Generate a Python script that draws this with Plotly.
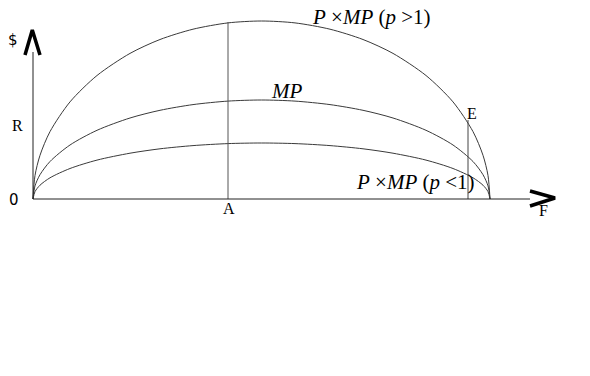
import plotly.graph_objects as go

# Quantity F (horizontal) values
f_vals = [0, 2, 7, 17, 37, 64, 97, 127, 160, 195, 228.5, 262, 297, 330, 360, 393, 420, 440, 450, 455, 457]
# P x MP (p > 1)
top_vals = [0, 23.5, 43.7, 67.4, 97.1, 123.5, 145.6, 159.5, 169.8, 176.1, 178, 176.1, 169.8, 159.5, 145.6, 123.5, 97.1, 67.4, 43.7, 23.5, 0]
# MP
mid_vals = [0, 13.1, 24.3, 37.5, 54.0, 68.7, 81.0, 88.7, 94.4, 97.9, 99, 97.9, 94.4, 88.7, 81.0, 68.7, 54.0, 37.5, 24.3, 13.1, 0]
# P x MP (p < 1)
bot_vals = [0, 7.4, 13.8, 21.2, 30.5, 38.9, 45.8, 50.2, 53.4, 55.4, 56, 55.4, 53.4, 50.2, 45.8, 38.9, 30.5, 21.2, 13.8, 7.4, 0]

# Vertical markers
a_x, a_top = 195, 177
e_x, e_top = 435, 79

# Axis extents
x_axis_end = 497
y_axis_end = 147

fig = go.Figure()

curve_style = dict(color="#3a3a3a", width=1, shape="spline", smoothing=0.8)
for ys in (top_vals, mid_vals, bot_vals):
    fig.add_trace(go.Scatter(x=f_vals, y=ys, mode="lines", line=curve_style,
                             hoverinfo="skip", showlegend=False))

# vertical lines A and E
fig.add_trace(go.Scatter(x=[a_x, a_x], y=[0, a_top], mode="lines",
                         line=dict(color="#555555", width=1), showlegend=False, hoverinfo="skip"))
fig.add_trace(go.Scatter(x=[e_x, e_x], y=[0, e_top], mode="lines",
                         line=dict(color="#444444", width=1), showlegend=False, hoverinfo="skip"))

# axes lines
fig.add_trace(go.Scatter(x=[0, 0], y=[0, y_axis_end], mode="lines",
                         line=dict(color="#222222", width=1), showlegend=False, hoverinfo="skip"))
fig.add_trace(go.Scatter(x=[0, x_axis_end], y=[0, 0], mode="lines",
                         line=dict(color="#222222", width=1), showlegend=False, hoverinfo="skip"))

# arrow heads (chevrons)
fig.add_trace(go.Scatter(x=[-8, -0.7, 7], y=[144, 169, 144], mode="lines",
                         line=dict(color="black", width=3.5), showlegend=False, hoverinfo="skip"))
fig.add_trace(go.Scatter(x=[497, 522, 497], y=[8, 1, -7], mode="lines",
                         line=dict(color="black", width=3.5), showlegend=False, hoverinfo="skip"))

serif = "Liberation Serif"
small = dict(family=serif, size=16, color="black")
big = dict(family=serif, size=21, color="black")
sans = dict(family="DejaVu Sans", size=15, color="black")

ann = [
    dict(x=-20, y=159, text="$", font=sans),
    dict(x=-16, y=74, text="R", font=small),
    dict(x=-19, y=-1, text="0", font=sans),
    dict(x=a_x + 1, y=-9, text="A", font=small),
    dict(x=e_x + 4, y=86, text="E", font=small),
    dict(x=510, y=-11, text="F", font=small),
    dict(x=338, y=182, text="<i>P</i> ×<i>MP</i> (<i>p</i> >1)", font=big),
    dict(x=253, y=108, text="<i>MP</i>", font=big),
    dict(x=382, y=17, text="<i>P</i> ×<i>MP</i> (<i>p</i> <1)", font=big),
]
for a in ann:
    fig.add_annotation(xref="x", yref="y", showarrow=False, **a)

fig.update_layout(
    width=590, height=376,
    margin=dict(l=0, r=0, t=0, b=0),
    paper_bgcolor="white", plot_bgcolor="white",
    xaxis=dict(range=[-33, 557], visible=False, fixedrange=True),
    yaxis=dict(range=[-177, 199], visible=False, fixedrange=True),
)

fig.write_html("out.html")
